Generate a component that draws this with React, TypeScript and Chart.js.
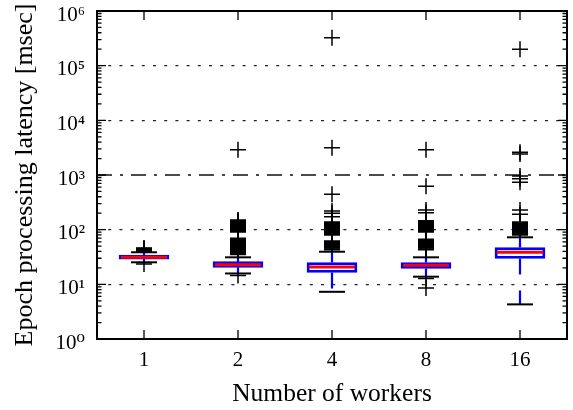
import { useEffect, useRef } from "react";
import { Chart, registerables } from "chart.js";

Chart.register(...registerables);

// ---- data ----
const workers = ["1", "2", "4", "8", "16"];
const q1 = [29.0, 20.3, 16.5, 19.5, 29.7];
const medians = [31.2, 22.9, 20.7, 22.3, 38.5];
const q3 = [34.4, 26.2, 25.1, 25.1, 47.2];
const whiskerLow = [25.3, 15.8, 7.3, 13.8, 4.3];
const whiskerHigh = [38.6, 31.2, 39.5, 31.2, 72.5];

const fliersW1 = [23.5, 40.5, 41.2, 42, 42.8, 43.6, 44.4, 45.2, 46];
const fliersW2 = [
  14.5,
  35, 36, 37, 38.5, 40, 41, 42, 43.5, 45, 46.5, 48, 49.5, 51, 52.5, 54,
  56, 58, 60, 62, 64, 66, 68, 70,
  91, 94, 97, 100, 103, 106, 110, 113, 117, 121, 125, 129, 133, 137, 142,
  146, 150,
  2900,
];
const fliersW4 = [
  43, 44.5, 46, 47.5, 49, 50.5, 52, 53.5, 55, 56.5, 58, 60, 62,
  80, 82.5, 85, 87.5, 90, 93, 96, 99, 102, 105, 108, 111, 115, 118, 122,
  126, 130, 134, 138,
  173, 199, 219, 443, 3160, 324000,
];
const fliersW8 = [
  8.6, 12.8,
  43, 44.5, 46, 47.5, 49, 50.5, 52, 53.5, 55, 57, 59, 61, 63, 65, 67,
  91, 94, 97, 100, 103, 106, 110, 113, 117, 121, 125, 129, 134, 139, 145,
  204, 229, 620, 2900,
];
const fliersW16 = [
  80, 82.5, 85, 87.5, 90, 93, 96, 99, 102, 105, 108, 111, 115, 118, 122,
  126, 130, 134, 138,
  191, 229, 740, 850, 960, 2420, 2600, 199000,
];
const fliers = [fliersW1, fliersW2, fliersW4, fliersW8, fliersW16];

const threshold = 1000;
const yTicks = [1, 10, 100, 1000, 10000, 100000, 1000000];
const yTickLabels = ["10⁰", "10¹", "10²", "10³", "10⁴", "10⁵", "10⁶"];

const FONT = "'Liberation Serif', 'DejaVu Serif', serif";

const framePlugin = {
  id: "frameTicks",
  beforeDatasetsDraw(chart: any) {
    const { ctx, chartArea } = chart;
    const y = chart.scales.y.getPixelForValue(threshold);
    ctx.save();
    ctx.strokeStyle = "#111";
    ctx.lineWidth = 1.5;
    ctx.setLineDash([15, 8, 3, 8]);
    ctx.beginPath();
    ctx.moveTo(chartArea.left, y);
    ctx.lineTo(chartArea.right, y);
    ctx.stroke();
    ctx.restore();
  },
  afterDatasetsDraw(chart: any) {
    const { ctx, chartArea } = chart;
    const { left, right, top, bottom } = chartArea;
    const ys = chart.scales.y;
    const xs = chart.scales.x;
    ctx.save();
    ctx.strokeStyle = "#000";
    ctx.setLineDash([]);
    ctx.lineWidth = 1.3;
    ctx.beginPath();
    yTicks.forEach((v) => {
      const p = ys.getPixelForValue(v);
      ctx.moveTo(left, p);
      ctx.lineTo(left + 9, p);
      ctx.moveTo(right, p);
      ctx.lineTo(right - 9, p);
    });
    for (let k = 0; k < yTicks.length - 1; k++) {
      for (let m = 2; m <= 9; m++) {
        const p = ys.getPixelForValue(m * yTicks[k]);
        ctx.moveTo(left, p);
        ctx.lineTo(left + 4.5, p);
        ctx.moveTo(right, p);
        ctx.lineTo(right - 4.5, p);
      }
    }
    workers.forEach((_, i) => {
      const p = xs.getPixelForValue(i);
      ctx.moveTo(p, bottom);
      ctx.lineTo(p, bottom - 9);
      ctx.moveTo(p, top);
      ctx.lineTo(p, top + 9);
    });
    ctx.stroke();
    ctx.lineWidth = 2;
    ctx.strokeRect(left, top, right - left, bottom - top);
    ctx.restore();
  },
};

const zeroPad = (s: any) => {
  s.paddingTop = 0;
  s.paddingBottom = 0;
  s.paddingLeft = 0;
  s.paddingRight = 0;
};

export default function App() {
  const ref = useRef<HTMLCanvasElement | null>(null);

  useEffect(() => {
    if (!ref.current) return;

    const whiskerPts: any[] = [];
    const capPts: any[] = [];
    const flierPts: any[] = [];
    workers.forEach((w, i) => {
      whiskerPts.push(
        { x: w, y: q1[i] },
        { x: w, y: whiskerLow[i] },
        { x: w, y: null },
        { x: w, y: q3[i] },
        { x: w, y: whiskerHigh[i] },
        { x: w, y: null }
      );
      capPts.push({ x: w, y: whiskerLow[i] }, { x: w, y: whiskerHigh[i] });
      fliers[i].forEach((v) => flierPts.push({ x: w, y: v }));
    });

    const chart = new Chart(ref.current, {
      type: "bar",
      data: {
        labels: workers,
        datasets: [
          {
            type: "line",
            label: "fliers",
            data: flierPts,
            showLine: false,
            pointStyle: "cross",
            pointRadius: 8,
            pointHoverRadius: 8,
            pointBorderColor: "#000",
            pointBorderWidth: 1.5,
            order: 5,
          } as any,
          {
            type: "line",
            label: "whiskers",
            data: whiskerPts,
            borderColor: "#0000ff",
            borderWidth: 2.2,
            borderDash: [16, 16],
            pointRadius: 0,
            spanGaps: false,
            order: 4,
          } as any,
          {
            type: "bar",
            label: "boxes",
            data: workers.map((_, i) => [q1[i], q3[i]]),
            backgroundColor: "rgba(255,255,255,0)",
            borderColor: "#0000ff",
            borderWidth: 2.2,
            borderSkipped: false,
            barThickness: 50,
            grouped: false,
            order: 3,
          } as any,
          {
            type: "line",
            label: "caps",
            data: capPts,
            showLine: false,
            pointStyle: "line",
            pointRadius: 13,
            pointHoverRadius: 13,
            pointBorderColor: "#000",
            pointBorderWidth: 2,
            order: 2,
          } as any,
          {
            type: "line",
            label: "medians",
            data: workers.map((w, i) => ({ x: w, y: medians[i] })),
            showLine: false,
            pointStyle: "line",
            pointRadius: 23,
            pointHoverRadius: 23,
            pointBorderColor: "#ff0000",
            pointBorderWidth: 3,
            order: 1,
          } as any,
        ],
      },
      options: {
        animation: false,
        responsive: false,
        devicePixelRatio: 1,
        layout: { autoPadding: false, padding: { top: 11, right: 6, left: 0, bottom: 0 } },
        plugins: {
          legend: { display: false },
          tooltip: { enabled: false },
        },
        events: [],
        scales: {
          x: {
            type: "category",
            offset: true,
            afterFit: (s: any) => {
              s.height = 71;
              zeroPad(s);
            },
            grid: { display: false, drawTicks: false },
            border: { display: false },
            ticks: {
              color: "#000",
              font: { family: FONT, size: 21 },
              padding: 9,
            },
            title: {
              display: true,
              text: "Number of workers",
              color: "#000",
              font: { family: FONT, size: 25.5 },
              padding: { top: 0, bottom: 0 },
            },
          },
          y: {
            type: "logarithmic",
            min: 1,
            max: 1000000,
            afterBuildTicks: (s: any) => {
              s.ticks = yTicks.map((v) => ({ value: v }));
            },
            afterFit: (s: any) => {
              s.width = 97;
              zeroPad(s);
            },
            grid: {
              drawTicks: false,
              color: (c: any) =>
                c.tick &&
                (c.tick.value === 1 ||
                  c.tick.value === 1000000 ||
                  c.tick.value === threshold)
                  ? "rgba(0,0,0,0)"
                  : "#222",
              lineWidth: 1.2,
            },
            border: { display: false, dash: [3, 8.2] },
            ticks: {
              color: "#000",
              autoSkip: false,
              font: { family: FONT, size: 21 },
              padding: 12,
              labelOffset: 4,
              callback: (v: any) => {
                const idx = yTicks.indexOf(Number(v));
                return idx >= 0 ? yTickLabels[idx] : "";
              },
            },
            title: {
              display: true,
              text: "Epoch processing latency [msec]",
              color: "#000",
              font: { family: FONT, size: 26 },
              padding: { top: 10, bottom: 0 },
            },
          },
        },
      },
      plugins: [framePlugin],
    });

    return () => chart.destroy();
  }, []);

  return (
    <div style={{ position: "absolute", left: 0, top: 0, width: 573, height: 410 }}>
      <canvas ref={ref} width={573} height={410} style={{ display: "block" }} />
    </div>
  );
}
